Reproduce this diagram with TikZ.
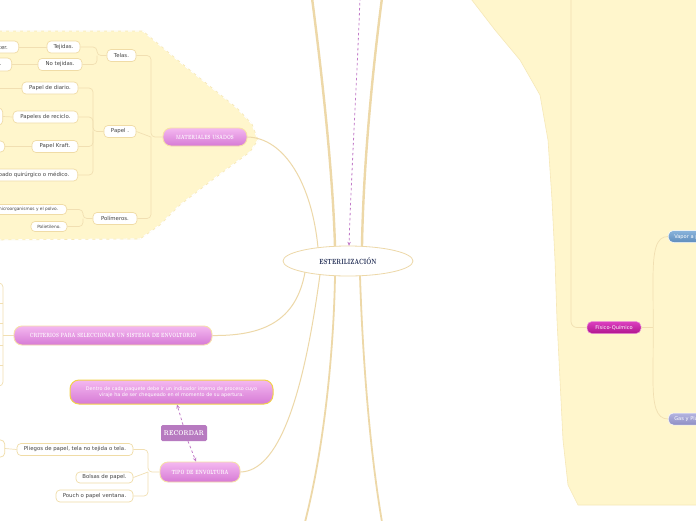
\documentclass[tikz,border=0pt]{standalone}
\usepackage{fontspec}
\setsansfont{DejaVu Sans}
\usetikzlibrary{calc,arrows.meta,shapes.geometric}
\definecolor{regionfill}{HTML}{FFF6CC}
\definecolor{regionedge}{HTML}{F6E8B8}
\definecolor{branch}{HTML}{EDD8A8}
\definecolor{thin}{HTML}{F1DFB2}
\definecolor{leafborder}{HTML}{F0DCA6}
\definecolor{leaftext}{HTML}{444444}
\definecolor{pinktop}{HTML}{F4B8F0}
\definecolor{pinkbot}{HTML}{D67AD5}
\definecolor{pinkborder}{HTML}{F6DFA8}
\definecolor{calloutborder}{HTML}{F2D24A}
\definecolor{navy}{HTML}{1E2A52}
\definecolor{dashpurple}{HTML}{C27AC8}
\definecolor{recordarfill}{HTML}{B77AC0}
\definecolor{magtop}{HTML}{DC40C0}
\definecolor{magbot}{HTML}{B0158E}
\definecolor{bluetop}{HTML}{8AB4DC}
\definecolor{bluebot}{HTML}{5E8CBC}
\definecolor{lavtop}{HTML}{B4B4E0}
\definecolor{lavbot}{HTML}{8E8EC4}
\newcommand{\pinktext}[1]{\scalebox{0.62}[1]{\bfseries\fontsize{6.1}{7}\selectfont #1}}
\tikzset{
 leaf/.style={draw=leafborder, fill=white, rounded corners=4pt, line width=0.7pt, text=leaftext,
   font=\sffamily\fontsize{5.4}{6.5}\selectfont, inner sep=0pt, minimum height=12pt},
 pinknode/.style={draw=pinkborder, line width=0.9pt, rounded corners=8pt, top color=pinktop,
   bottom color=pinkbot, text=white, inner sep=0pt, minimum height=18pt},
 rightnode/.style={draw=white, line width=0.5pt, rounded corners=5pt, text=white,
   font=\sffamily\fontsize{5.1}{6}\selectfont, inner sep=0pt, minimum height=12pt},
 conn/.style={draw=thin, line width=0.7pt, rounded corners=4pt},
 branchline/.style={draw=branch, line width=2.4pt},
 lowline/.style={draw=branch, line width=1.8pt},
 midline/.style={draw=branch, line width=1pt},
 dasharrow/.style={draw=dashpurple, line width=0.8pt, dash pattern=on 2.5pt off 2.5pt,
   -{Stealth[length=4pt,width=3.5pt]}},
}
\begin{document}
\begin{tikzpicture}[x=1pt,y=-1pt]
\useasboundingbox (0,0) rectangle (696,520);
\clip (0,0) rectangle (696,520);
\fill[white] (0,0) rectangle (696,520);

% regions
\fill[regionfill, draw=regionedge, line width=0.6pt]
  (-5,31) -- (143,31) -- (180,62) -- (237,108) -- (252,124) -- (258,140) -- (250,152)
  -- (215,178) -- (180,205) -- (160,225) -- (140,239) -- (-5,240) -- cycle;
\draw[white, line width=1.2pt, dash pattern=on 4pt off 3pt]
  (-5,31) -- (143,31) -- (180,62) -- (237,108) -- (252,124) -- (258,140) -- (250,152)
  -- (215,178) -- (180,205) -- (160,225) -- (140,239) -- (-5,240);
\fill[regionfill, draw=regionedge, line width=0.6pt]
  (468,-5) -- (495,30) -- (520,60) -- (540,95) -- (548,140) -- (552,200) -- (555,260)
  -- (557,320) -- (560,380) -- (563,440) -- (568,485) -- (578,505) -- (700,505) -- (700,-5) -- cycle;

% central node
\node[ellipse, draw=branch, line width=0.8pt, fill=white, minimum width=130pt, minimum height=30pt,
  inner sep=0pt, text=navy] (c) at (348,261) {\scalebox{0.72}[1]{\bfseries\fontsize{7.5}{8}\selectfont ESTERILIZACIÓN}};

% main thick branches
\coordinate (top1) at (312,-2);
\coordinate (top2) at (382,-2);
\coordinate (bot1) at (305,522);
\coordinate (bot2) at (382,522);
\coordinate (topdash) at (360,-2);
\draw[branchline] (top1) .. controls (324,90) and (333,180) .. ($(c)+(-13,-14.7)$);
\draw[branchline] (top2) .. controls (370,90) and (363,180) .. ($(c)+(14,-14.6)$);
\draw[lowline] ($(c)+(-13,14.7)$) .. controls (334,340) and (326,440) .. (bot1);
\draw[lowline] ($(c)+(12,14.7)$) .. controls (362,340) and (368,440) .. (bot2);
\draw[dasharrow] (topdash) .. controls (357,80) and (351,180) .. ($(c)+(1,-15.2)$);

% MATERIALES USADOS
\node[pinknode, minimum width=84pt] (mat) at (205,137) {\pinktext{MATERIALES USADOS}};
\draw[midline] (mat.east) .. controls (285,138) and (312,185) .. ($(c)+(-30,-13.3)$);

\node[leaf, minimum width=29pt] (telas) at (121.5,55.5) {Telas.};
\node[leaf, minimum width=33pt] (tej) at (63.5,47) {Tejidas.};
\node[leaf, minimum width=44pt] (notej) at (60,64.5) {No tejidas.};
\node[leaf, minimum width=46pt, anchor=east] (polies) at (19,47) {Poliéster.};
\node[leaf, minimum width=60pt, anchor=east, minimum height=13pt] (polip) at (12,64.5) {Polipropilenos.};
\draw[conn] (polies.east) -- (tej.west);
\draw[conn] (polip.east) -- (notej.west);
\coordinate (brT) at (97,55.5);
\draw[conn] (tej.east) -| (brT) -- (telas.west);
\draw[conn] (notej.east) -| (brT);

\node[leaf, minimum width=32pt] (papel) at (120,131.5) {Papel .};
\node[leaf, minimum width=56pt] (diario) at (50,88) {Papel de diario.};
\node[leaf, minimum width=65pt] (reciclo) at (45.5,117) {Papeles de reciclo.};
\node[leaf, minimum width=46pt] (kraft) at (55,146.5) {Papel Kraft.};
\node[leaf, minimum width=112pt, anchor=east] (crep) at (78,175) {Papel crepado quirúrgico o médico.};
\coordinate (ldiario) at (-5,88);
\node[leaf, minimum width=40pt, minimum height=17pt, anchor=east] (precic) at (3,116.5) {};
\node[leaf, minimum width=40pt, minimum height=11pt, anchor=east] (pkraft) at (5,146.5) {};
\draw[conn] (ldiario) -- (diario.west);
\draw[conn] (precic.east) -- (reciclo.west);
\draw[conn] (pkraft.east) -- (kraft.west);
\coordinate (brP) at (93,131.5);
\draw[conn] (diario.east) -| (brP) -- (papel.west);
\draw[conn] (reciclo.east) -| (brP);
\draw[conn] (kraft.east) -| (brP);
\draw[conn] (crep.east) -| (brP);

\node[leaf, minimum width=44pt] (polim) at (115,218.5) {Polímeros.};
\node[leaf, minimum width=110pt, minimum height=10pt, anchor=east,
  font=\sffamily\fontsize{4.3}{5}\selectfont] (micro) at (67,209.5) {Barrera contra microorganismos y el polvo.};
\node[leaf, minimum width=36pt, minimum height=10pt,
  font=\sffamily\fontsize{4.3}{5}\selectfont] (polie) at (49,226.5) {Polietileno.};
\coordinate (brPo) at (83,218.5);
\draw[conn] (micro.east) -| (brPo) -- (polim.west);
\draw[conn] (polie.east) -| (brPo);

\coordinate (brM) at (151,137);
\draw[conn] (telas.east) -| (brM) -- (mat.west);
\draw[conn] (papel.east) -- (brM);
\draw[conn] (polim.east) -| (brM);

% CRITERIOS
\node[pinknode, minimum width=198pt, minimum height=19pt] (crit) at (113,335.5)
  {\pinktext{CRITERIOS PARA SELECCIONAR UN SISTEMA DE ENVOLTORIO}};
\draw[midline] (crit.east) .. controls (262,336) and (296,322) .. ($(c)+(-43,11.2)$);
\coordinate (brC) at (3,335.5);
\draw[conn] (crit.west) -- (brC);
\draw[conn] (-6,283) -| (3,386) -- (-6,386);
\draw[conn] (3,303) -- (-6,303);
\draw[conn] (3,323) -- (-6,323);
\draw[conn] (3,345) -- (-6,345);
\draw[conn] (3,365) -- (-6,365);

% callout and RECORDAR
\node[draw=calloutborder, line width=1pt, rounded corners=9pt, top color=pinktop, bottom color=pinkbot,
  minimum width=203pt, minimum height=24pt, inner sep=0pt, text=white, align=center,
  font=\sffamily\fontsize{4.9}{6.5}\selectfont] (call) at (171.5,392)
  {Dentro de cada paquete debe ir un indicador interno de proceso cuyo\\viraje ha de ser chequeado en el momento de su apertura.};
\node[fill=recordarfill, rounded corners=1.5pt, minimum width=46pt, minimum height=16pt, inner sep=0pt,
  text=white] (rec) at (184,433) {\scalebox{0.76}[1]{\bfseries\fontsize{7}{8}\selectfont RECORDAR}};

% TIPO DE ENVOLTURA
\node[pinknode, minimum width=80pt, minimum height=20pt] (tipo) at (200,472) {\pinktext{TIPO DE ENVOLTURA}};
\draw[midline] (tipo.east) .. controls (278,471) and (303,400) .. ($(c)+(-28,13.5)$);
\draw[dasharrow] ($(rec.north)+(-1,0)$) -- ($(call.south)+(5.5,0)$);
\draw[dasharrow] ($(rec.south)+(4,0)$) -- ($(tipo.north)+(-4,0)$);

\node[leaf, minimum width=116pt] (pli) at (75,449.5) {Pliegos de papel, tela no tejida o tela.};
\node[leaf, minimum width=57pt, minimum height=11pt] (bol) at (104.5,477.5) {Bolsas de papel.};
\node[leaf, minimum width=77pt] (pou) at (94.5,496) {Pouch o papel ventana.};
\node[leaf, minimum width=40pt, minimum height=17pt, anchor=east] (ppli) at (5,448.5) {};
\draw[conn] (ppli.east) -- (pli.west);
\coordinate (brE) at (148,472);
\draw[conn] (pli.east) -| (brE) -- (tipo.west);
\draw[conn] (bol.east) -- (brE);
\draw[conn] (pou.east) -| (brE);

% right side
\node[rightnode, top color=magtop, bottom color=magbot, draw=magtop!60!white, minimum width=54pt] (fis) at (614,327.5) {Físico-Químico};
\node[rightnode, top color=bluetop, bottom color=bluebot, text width=62pt, align=left, inner xsep=6pt,
  anchor=west] (vap) at (668,236.5) {Vapor a presión};
\node[rightnode, top color=lavtop, bottom color=lavbot, text width=62pt, align=left, inner xsep=6pt,
  anchor=west] (gas) at (668,419) {Gas y Plasma};
\coordinate (rtop) at (571,-2);
\draw[conn, rounded corners=6pt] (rtop) |- (fis.west);
\draw[conn] (fis.east) -- ++(12,0) coordinate (fb);
\draw[conn] (fb) -- (653,285) .. controls (653,250) and (656,236.5) .. (vap.west);
\draw[conn] (fb) -- (653,375) .. controls (653,405) and (656,419) .. (gas.west);
\end{tikzpicture}
\end{document}
